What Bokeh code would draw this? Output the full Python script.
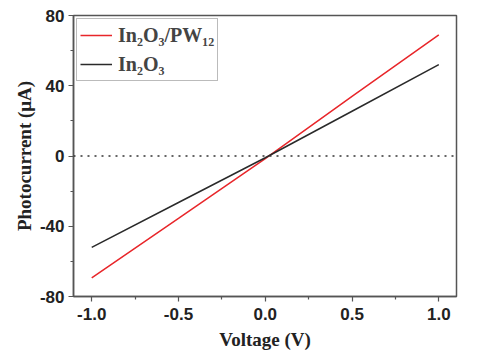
from bokeh.plotting import figure
from bokeh.models import Span, Legend, LegendItem, FixedTicker, Range1d
from bokeh.embed import file_html
from bokeh.resources import INLINE

voltage = [-1.0, -0.5, 0.0, 0.5, 1.0]
current_pw12 = [-69.4, -35.5, -1.5, 34.0, 69.0]
current_in2o3 = [-52.0, -26.5, -1.0, 25.5, 52.0]
x_ticks = [-1.0, -0.5, 0.0, 0.5, 1.0]
y_ticks = [-80, -40, 0, 40, 80]
label_pw12 = "In\u2082O\u2083/PW\u2081\u2082"
label_in2o3 = "In\u2082O\u2083"

p = figure(width=474, height=352, output_backend="svg", toolbar_location=None,
           x_range=Range1d(-1.105, 1.102), y_range=Range1d(-80, 80),
           min_border_left=73, min_border_right=18, min_border_top=15, min_border_bottom=55)
p.background_fill_color = "white"
p.border_fill_color = "white"
p.grid.visible = False
p.outline_line_color = "#555555"
p.outline_line_width = 1.5

zero = Span(location=0, dimension="width", line_color="#333333", line_width=1.5, line_dash="2 5")
p.add_layout(zero)

r1 = p.line(voltage, current_pw12, line_color="#e8262a", line_width=1.5)
r2 = p.line(voltage, current_in2o3, line_color="#2a2a2a", line_width=1.5)

legend = Legend(items=[LegendItem(label=label_pw12, renderers=[r1]),
                       LegendItem(label=label_in2o3, renderers=[r2])],
                location="top_left")
legend.label_text_font = "Liberation Serif"
legend.label_text_font_style = "bold"
legend.label_text_font_size = "20px"
legend.border_line_color = "#777777"
legend.border_line_width = 1.2
legend.glyph_width = 32
legend.spacing = 3
legend.margin = 3
legend.padding = 3
legend.label_standoff = 6
legend.label_height = 26
p.add_layout(legend)

for ax in (p.xaxis[0], p.yaxis[0]):
    ax.axis_line_color = "#555555"
    ax.axis_line_width = 1.5
    ax.major_tick_line_color = "#555555"
    ax.minor_tick_line_color = "#555555"
    ax.major_tick_line_width = 1.2
    ax.minor_tick_line_width = 1.2
    ax.major_tick_out = 5
    ax.major_tick_in = 0
    ax.minor_tick_out = 3
    ax.minor_tick_in = 0
    ax.major_label_text_font = "Liberation Sans"
    ax.major_label_text_font_style = "bold"
    ax.major_label_text_font_size = "17px"
    ax.major_label_text_color = "#222222"
    ax.axis_label_text_font = "Liberation Serif"
    ax.axis_label_text_font_style = "bold"
    ax.axis_label_text_font_size = "19px"
    ax.axis_label_text_color = "#222222"

p.xaxis.ticker = FixedTicker(ticks=x_ticks, minor_ticks=[-0.75, -0.25, 0.25, 0.75])
p.yaxis.ticker = FixedTicker(ticks=y_ticks, minor_ticks=[-60, -20, 20, 60])
p.xaxis.major_label_overrides = {v: f"{v:.1f}" for v in x_ticks}
p.yaxis.major_label_overrides = {v: str(v) for v in y_ticks}
p.xaxis.axis_label = "Voltage (V)"
p.yaxis.axis_label = "Photocurrent (\u03bcA)"
p.xaxis.major_label_standoff = 6
p.yaxis.major_label_standoff = 4
p.xaxis.axis_label_standoff = 6
p.yaxis.axis_label_standoff = 2

open("out.html", "w").write(file_html(p, INLINE))
